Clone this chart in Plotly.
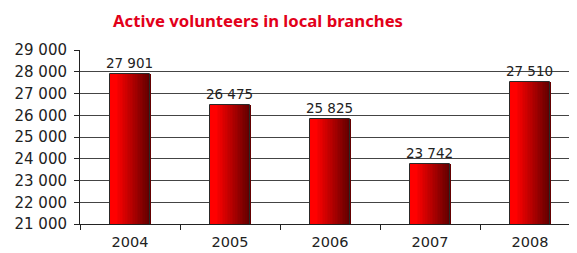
import plotly.graph_objects as go

years = ["2004", "2005", "2006", "2007", "2008"]
volunteers = [27901, 26475, 25825, 23742, 27510]
y_ticks = [21000, 22000, 23000, 24000, 25000, 26000, 27000, 28000, 29000]
y_tick_labels = ["21 000", "22 000", "23 000", "24 000", "25 000", "26 000", "27 000", "28 000", "29 000"]
title_text = "Active volunteers in local branches"

def fmt(v):
    return f"{v:,}".replace(",", " ")

fig = go.Figure()

BAR_W = 0.4
N = 24
def grad_color(t):
    # bright red on the left fading to dark red on the right
    if t < 0.15:
        r = 255
    else:
        r = 255 - (255 - 95) * (t - 0.15) / 0.85
    return f"rgb({int(r)},0,0)"

for i in range(N):
    w = BAR_W / N
    fig.add_trace(go.Bar(
        x=years, y=volunteers,
        width=w * 1.6, offset=-BAR_W / 2 + i * w,
        marker=dict(color=grad_color((i + 0.5) / N), line=dict(width=0)),
        hoverinfo="skip", showlegend=False,
    ))

fig.add_trace(go.Bar(
    x=years, y=volunteers, width=BAR_W, offset=-BAR_W / 2,
    marker=dict(color="rgba(0,0,0,0)", line=dict(color="#2a2a2a", width=1)),
    text=[fmt(v) for v in volunteers], textposition="outside",
    constraintext="none",
    textfont=dict(size=13.5, color="#222", family="DejaVu Sans"),
    cliponaxis=False, showlegend=False,
))

# page body has an 8px margin; figure sized to fit the 577x253 window
fig.update_layout(
    width=569, height=245,
    margin=dict(l=72, r=0, t=42, b=29),
    barmode="overlay",
    bargap=0,
    plot_bgcolor="white", paper_bgcolor="white",
    font=dict(family="DejaVu Sans", size=14, color="#222"),
    title=dict(text=f"<b>{title_text}</b>", x=250 / 569, xanchor="center", y=1 - 13 / 245, yanchor="middle",
               font=dict(size=16.7, color="#E2001A", family="Noto Sans")),
    showlegend=False,
)
fig.update_xaxes(
    type="category", range=[-0.5, 4.47],
    showline=True, linecolor="#222", linewidth=1,
    ticks="outside", tickson="boundaries", ticklen=5, tickcolor="#222",
    ticklabelstandoff=5,
    showgrid=False, tickfont=dict(size=14.5, color="#222"),
)
fig.update_yaxes(
    range=[21000, 29000], tickvals=y_ticks, ticktext=y_tick_labels,
    showline=True, linecolor="#222", linewidth=1,
    ticks="outside", ticklen=5, tickcolor="#222",
    ticklabelstandoff=4,
    showgrid=True, gridcolor="#444", gridwidth=1,
    tickfont=dict(size=15, color="#222"), zeroline=False,
)

fig.write_html("out.html")
